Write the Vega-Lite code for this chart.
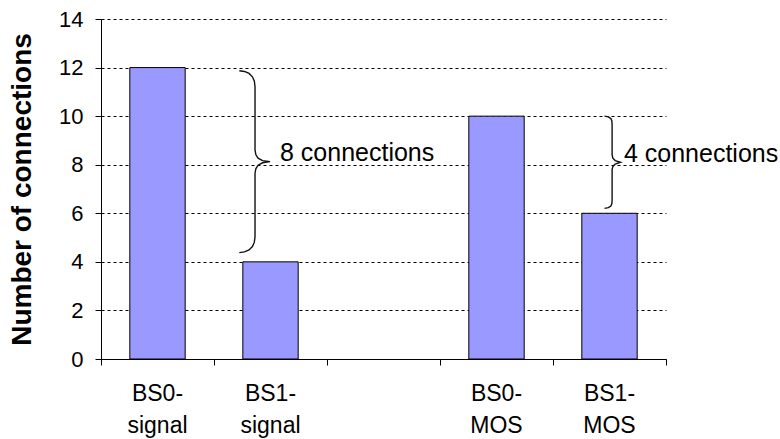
{
  "$schema": "https://vega.github.io/schema/vega-lite/v6.json",
  "width": 565,
  "height": 340,
  "autosize": {"type": "none"},
  "padding": {"left": 101, "top": 19, "right": 114, "bottom": 80},
  "background": "white",
  "config": {
    "font": "Liberation Sans",
    "view": {"stroke": null},
    "axis": {"labelColor": "#000", "titleColor": "#000", "domainColor": "#000", "tickColor": "#000"}
  },
  "datasets": {
    "bars": [
      {"cat": "BS0-signal", "value": 12},
      {"cat": "BS1-signal", "value": 4},
      {"cat": "BS0-MOS", "value": 10},
      {"cat": "BS1-MOS", "value": 6}
    ],
    "braces": [
      {"brace": "a", "ord": 1, "u": 1.224, "value": 11.87},
      {"brace": "a", "ord": 2, "u": 1.27, "value": 11.84},
      {"brace": "a", "ord": 3, "u": 1.31, "value": 11.76},
      {"brace": "a", "ord": 4, "u": 1.34, "value": 11.62},
      {"brace": "a", "ord": 5, "u": 1.357, "value": 11.44},
      {"brace": "a", "ord": 6, "u": 1.363, "value": 11.21},
      {"brace": "a", "ord": 7, "u": 1.363, "value": 8.61},
      {"brace": "a", "ord": 8, "u": 1.37, "value": 8.42},
      {"brace": "a", "ord": 9, "u": 1.39, "value": 8.27},
      {"brace": "a", "ord": 10, "u": 1.43, "value": 8.17},
      {"brace": "a", "ord": 11, "u": 1.496, "value": 8.125},
      {"brace": "a", "ord": 12, "u": 1.43, "value": 8.08},
      {"brace": "a", "ord": 13, "u": 1.39, "value": 7.98},
      {"brace": "a", "ord": 14, "u": 1.37, "value": 7.83},
      {"brace": "a", "ord": 15, "u": 1.363, "value": 7.64},
      {"brace": "a", "ord": 16, "u": 1.363, "value": 5.04},
      {"brace": "a", "ord": 17, "u": 1.357, "value": 4.81},
      {"brace": "a", "ord": 18, "u": 1.34, "value": 4.63},
      {"brace": "a", "ord": 19, "u": 1.31, "value": 4.49},
      {"brace": "a", "ord": 20, "u": 1.27, "value": 4.41},
      {"brace": "a", "ord": 21, "u": 1.224, "value": 4.38},
      {"brace": "b", "ord": 1, "u": 4.456, "value": 10.0},
      {"brace": "b", "ord": 2, "u": 4.49, "value": 9.97},
      {"brace": "b", "ord": 3, "u": 4.512, "value": 9.9},
      {"brace": "b", "ord": 4, "u": 4.521, "value": 9.8},
      {"brace": "b", "ord": 5, "u": 4.523, "value": 9.65},
      {"brace": "b", "ord": 6, "u": 4.523, "value": 8.4},
      {"brace": "b", "ord": 7, "u": 4.53, "value": 8.27},
      {"brace": "b", "ord": 8, "u": 4.55, "value": 8.17},
      {"brace": "b", "ord": 9, "u": 4.597, "value": 8.1},
      {"brace": "b", "ord": 10, "u": 4.55, "value": 8.03},
      {"brace": "b", "ord": 11, "u": 4.53, "value": 7.93},
      {"brace": "b", "ord": 12, "u": 4.523, "value": 7.8},
      {"brace": "b", "ord": 13, "u": 4.523, "value": 6.55},
      {"brace": "b", "ord": 14, "u": 4.521, "value": 6.4},
      {"brace": "b", "ord": 15, "u": 4.512, "value": 6.3},
      {"brace": "b", "ord": 16, "u": 4.49, "value": 6.23},
      {"brace": "b", "ord": 17, "u": 4.456, "value": 6.2}
    ],
    "notes": [
      {"label": "8 connections", "u": 1.584, "value": 8.15},
      {"label": "4 connections", "u": 4.628, "value": 8.13}
    ]
  },
  "layer": [
    {
      "data": {"name": "bars"},
      "mark": {"type": "bar", "fill": "#9999ff", "stroke": "#000", "strokeWidth": 1},
      "encoding": {
        "x": {
          "field": "cat", "type": "nominal",
          "scale": {"domain": ["BS0-signal", "BS1-signal", "gap", "BS0-MOS", "BS1-MOS"], "paddingInner": 0.51, "paddingOuter": 0.255},
          "axis": {
            "title": null, "ticks": false, "tickSize": 0, "domain": false, "grid": false,
            "labelAngle": 0, "labelFontSize": 23, "labelLineHeight": 32, "labelPadding": 23,
            "labelExpr": "datum.value == 'gap' ? '' : [split(datum.value, '-')[0] + '-', split(datum.value, '-')[1]]"
          }
        },
        "y": {
          "field": "value", "type": "quantitative",
          "scale": {"domain": [0, 14], "nice": false},
          "axis": {
            "title": "Number of connections", "titleFontSize": 28, "titleFontWeight": "bold", "titlePadding": 22,
            "values": [0, 2, 4, 6, 8, 10, 12, 14], "labelFontSize": 22, "labelPadding": 12,
            "tickSize": 6, "grid": true, "gridColor": "#000", "gridDash": [3, 3], "gridWidth": 1, "gridOpacity": 1
          }
        }
      }
    },
    {
      "data": {"name": "braces"},
      "mark": {"type": "line", "color": "#111", "strokeWidth": 1.4},
      "encoding": {
        "x": {
          "field": "u", "type": "quantitative",
          "scale": {"domain": [0, 5], "nice": false, "zero": false},
          "axis": {"orient": "bottom", "values": [0, 1, 2, 3, 4, 5], "labels": false, "title": null, "grid": false, "tickSize": 6, "domain": true}
        },
        "y": {"field": "value", "type": "quantitative"},
        "detail": {"field": "brace"},
        "order": {"field": "ord"}
      }
    },
    {
      "data": {"name": "notes"},
      "mark": {"type": "text", "align": "left", "baseline": "alphabetic", "fontSize": 25, "color": "#000"},
      "encoding": {
        "x": {"field": "u", "type": "quantitative", "scale": {"domain": [0, 5], "nice": false, "zero": false}, "axis": null},
        "y": {"field": "value", "type": "quantitative"},
        "text": {"field": "label"}
      }
    }
  ],
  "resolve": {"scale": {"x": "independent"}}
}
